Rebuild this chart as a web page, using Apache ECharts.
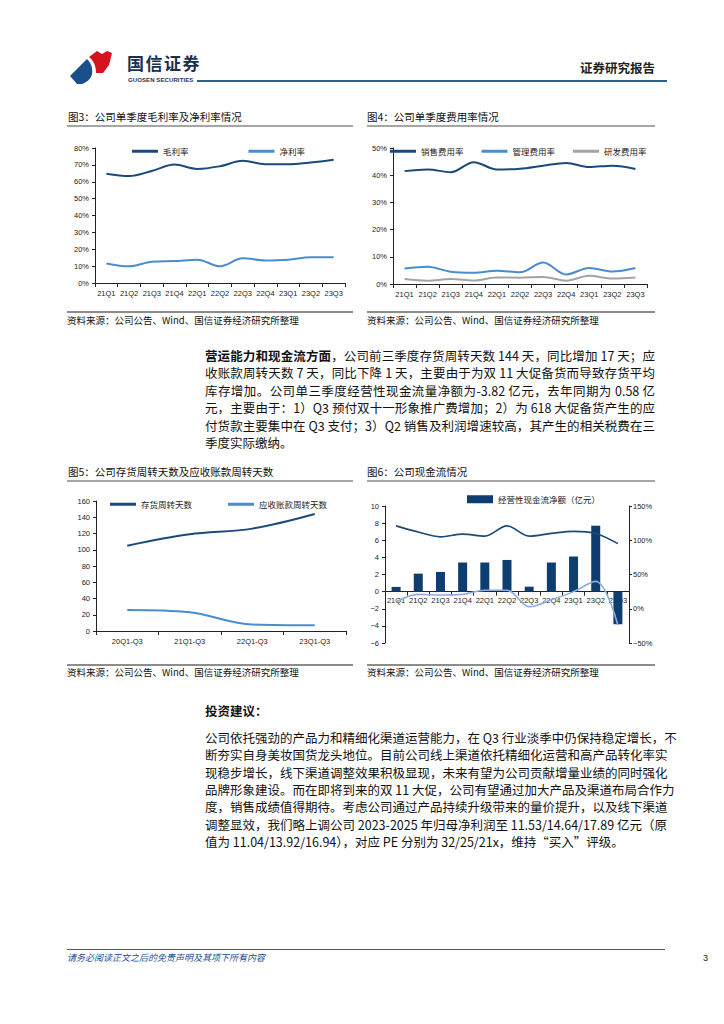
<!DOCTYPE html>
<html><head><meta charset="utf-8">
<script src="https://cdn.jsdelivr.net/npm/echarts@6/dist/echarts.min.js"></script>
<style>
html,body{margin:0;padding:0;background:#fff;}
body{width:724px;height:1024px;position:relative;overflow:hidden;font-family:"Noto Sans CJK SC",sans-serif;color:#111;}
.abs{position:absolute;line-height:1;}
.title{font-size:10.5px;color:#111;white-space:nowrap;}
.rule{position:absolute;height:2px;background:#a6a6a6;}
.src{font-size:9.5px;color:#111;white-space:nowrap;}
.ln{position:absolute;left:205px;width:450px;font-size:12.5px;line-height:16px;text-align:justify;text-align-last:justify;white-space:nowrap;color:#111;}
.ln.last{text-align-last:left;}
.chart{position:absolute;}
</style></head>
<body>
<!-- header -->
<svg class="abs" style="left:68px;top:48px" width="48" height="38" viewBox="0 0 48 38">
  <path d="M2,28 L19,11 C23,15 25,20 24,26 C23,31 19,34 14,36 L9,36 Z" fill="#1b4f8c"/>
  <path d="M21,9 L29,3 L34,6 L39,3 L44,5 L41,17 L35,25 L28,25 C28,18 26,13 21,9 Z" fill="#d5121e"/>
</svg>
<div class="abs" style="left:127px;top:54px;font-size:17px;font-weight:bold;color:#1d2f4f;letter-spacing:1.5px;">国信证券</div>
<div class="abs" style="left:128px;top:77px;font-size:6px;font-family:'Liberation Sans';font-weight:bold;color:#1d2f4f;letter-spacing:0.1px;">GUOSEN SECURITIES</div>
<div class="abs" style="left:197px;top:80px;width:470px;height:2px;background:#2d5f8f;"></div>
<div class="abs" style="left:580px;top:62px;font-size:12.5px;font-weight:bold;color:#222;">证券研究报告</div>

<!-- Fig 3/4 titles -->
<div class="abs title" style="left:68px;top:112px;">图3：公司单季度毛利率及净利率情况</div>
<div class="rule" style="left:67px;top:125px;width:286px;"></div>
<div class="abs title" style="left:367px;top:112px;">图4：公司单季度费用率情况</div>
<div class="rule" style="left:367px;top:125px;width:288px;"></div>

<div id="c3" class="chart" style="left:60px;top:135px;width:295px;height:172px;"></div>
<div id="c4" class="chart" style="left:360px;top:135px;width:300px;height:172px;"></div>

<div class="rule" style="left:67px;top:311px;width:286px;height:1.5px;background:#8c8c8c;"></div>
<div class="rule" style="left:367px;top:311px;width:288px;height:1.5px;background:#8c8c8c;"></div>
<div class="abs src" style="left:67px;top:316px;">资料来源：公司公告、Wind、国信证券经济研究所整理</div>
<div class="abs src" style="left:367px;top:316px;">资料来源：公司公告、Wind、国信证券经济研究所整理</div>

<!-- paragraph 1 -->
<div class="ln" style="top:348px;"><b>营运能力和现金流方面</b>，公司前三季度存货周转天数 144 天，同比增加 17 天；应</div>
<div class="ln" style="top:365.4px;">收账款周转天数 7 天，同比下降 1 天，主要由于为双 11 大促备货而导致存货平均</div>
<div class="ln" style="top:382.8px;">库存增加。公司单三季度经营性现金流量净额为-3.82 亿元，去年同期为 0.58 亿</div>
<div class="ln" style="top:400.2px;">元，主要由于：1）Q3 预付双十一形象推广费增加；2）为 618 大促备货产生的应</div>
<div class="ln" style="top:417.6px;">付货款主要集中在 Q3 支付；3）Q2 销售及利润增速较高，其产生的相关税费在三</div>
<div class="ln last" style="top:435px;">季度实际缴纳。</div>

<!-- Fig 5/6 titles -->
<div class="abs title" style="left:68px;top:467px;">图5：公司存货周转天数及应收账款周转天数</div>
<div class="rule" style="left:67px;top:480px;width:286px;"></div>
<div class="abs title" style="left:367px;top:467px;">图6：公司现金流情况</div>
<div class="rule" style="left:367px;top:480px;width:288px;"></div>

<div id="c5" class="chart" style="left:60px;top:490px;width:295px;height:170px;"></div>
<div id="c6" class="chart" style="left:360px;top:485px;width:300px;height:175px;"></div>

<div class="rule" style="left:67px;top:664px;width:286px;height:1.5px;background:#8c8c8c;"></div>
<div class="rule" style="left:367px;top:664px;width:288px;height:1.5px;background:#8c8c8c;"></div>
<div class="abs src" style="left:67px;top:668px;">资料来源：公司公告、Wind、国信证券经济研究所整理</div>
<div class="abs src" style="left:367px;top:668px;">资料来源：公司公告、Wind、国信证券经济研究所整理</div>

<!-- paragraph 2 -->
<div class="ln last" style="top:703px;font-weight:bold;">投资建议：</div>
<div class="ln" style="top:730px;">公司依托强劲的产品力和精细化渠道运营能力，在 Q3 行业淡季中仍保持稳定增长，不</div>
<div class="ln" style="top:747.3px;">断夯实自身美妆国货龙头地位。目前公司线上渠道依托精细化运营和高产品转化率实</div>
<div class="ln" style="top:764.6px;">现稳步增长，线下渠道调整效果积极显现，未来有望为公司贡献增量业绩的同时强化</div>
<div class="ln" style="top:781.9px;">品牌形象建设。而在即将到来的双 11 大促，公司有望通过加大产品及渠道布局合作力</div>
<div class="ln" style="top:799.2px;">度，销售成绩值得期待。考虑公司通过产品持续升级带来的量价提升，以及线下渠道</div>
<div class="ln" style="top:816.5px;">调整显效，我们略上调公司 2023-2025 年归母净利润至 11.53/14.64/17.89 亿元（原</div>
<div class="ln last" style="top:833.8px;">值为 11.04/13.92/16.94），对应 PE 分别为 32/25/21x，维持“买入”评级。</div>

<!-- footer -->
<div class="abs" style="left:67px;top:949px;width:598px;height:1px;background:#2d5f8f;"></div>
<div class="abs" style="left:67px;top:953px;font-size:9px;font-style:italic;color:#1f4f8f;">请务必阅读正文之后的免责声明及其项下所有内容</div>
<div class="abs" style="left:703px;top:954px;font-size:9px;font-family:'Liberation Sans';color:#222;">3</div>

<script>
// ---------- data ----------
const quarters = ['21Q1','21Q2','21Q3','21Q4','22Q1','22Q2','22Q3','22Q4','23Q1','23Q2','23Q3'];
const grossMargin = [64.8,63.4,66.4,70.2,67.6,69.2,72.4,70.4,70.4,71.4,73.0];
const netMargin   = [11.6,9.9,12.6,13.0,13.8,9.9,14.6,13.4,13.8,15.3,15.2];
const sellingRate = [41.5,42.1,41.1,44.8,42.1,42.4,43.5,44.5,43.0,43.5,42.3];
const adminRate   = [5.7,6.3,4.5,4.1,4.9,4.3,7.9,3.5,5.9,4.6,5.9];
const rdRate      = [1.8,1.2,1.8,1.3,2.4,2.3,2.6,1.2,3.0,2.0,2.4];
const periods = ['20Q1-Q3','21Q1-Q3','22Q1-Q3','23Q1-Q3'];
const inventoryDays  = [105,119,126,144];
const receivableDays = [26,23,8,7];
const cashFlow   = [0.55,2.1,2.3,3.4,3.4,3.7,0.58,3.4,4.1,7.7,-3.82];
const cashRatioA = [121,112,105,109,106,121,106,110,113,110,95];
const cashRatioB = [10,21,20,21,27,27,3,13,25,40,-24];
const cashAxis = {min:-6, max:10, interval:2};

// ---------- style ----------
const DARK = '#1a4a7c', LIGHT = '#4a8ccc', GRAY = '#a3a3a3', BAR = '#0e3d6f', PALE = '#8eacde';
const FONT = 'Liberation Sans';
const lab = {fontSize:7.5, color:'#222', fontFamily:FONT};
const axLine = {show:true, lineStyle:{color:'#222', width:1}};
function xCat(data, extra){
  return Object.assign({type:'category', data, boundaryGap:true, axisLine:axLine,
    axisTick:{show:true, alignWithLabel:false, interval:0, length:4, lineStyle:{color:'#222'}},
    axisLabel:Object.assign({margin:6, interval:0}, lab)}, extra||{});
}
function yVal(extra){
  return Object.assign({type:'value', axisLine:axLine, splitLine:{show:false},
    axisTick:{show:true, length:3, lineStyle:{color:'#222'}},
    axisLabel:Object.assign({margin:6}, lab)}, extra||{});
}
function line(name, data, color, extra){
  return Object.assign({name, type:'line', data, smooth:0.35, symbol:'none',
    lineStyle:{color, width:2}, itemStyle:{color}}, extra||{});
}
const legendBase = {itemWidth:26, itemHeight:3, icon:'rect', itemGap:60,
  textStyle:{fontSize:8.5, color:'#222', fontFamily:'Noto Sans CJK SC'}};

// Fig 3
echarts.init(document.getElementById('c3'), null, {renderer:'svg'}).setOption({
  animation:false,
  grid:{left:35, top:13, width:250, height:135},
  legend:Object.assign({}, legendBase, {top:7, left:67, data:['毛利率','净利率'], itemGap:60}),
  xAxis:xCat(quarters),
  yAxis:yVal({min:0, max:80, interval:10, axisLabel:Object.assign({margin:6, formatter:'{value}%'}, lab)}),
  series:[line('毛利率', grossMargin, DARK), line('净利率', netMargin, LIGHT)]
});

// Fig 4
echarts.init(document.getElementById('c4'), null, {renderer:'svg'}).setOption({
  animation:false,
  grid:{left:33, top:13, width:254, height:136},
  legend:Object.assign({}, legendBase, {top:7, left:25, width:290, data:['销售费用率','管理费用率','研发费用率'], itemGap:18}),
  xAxis:xCat(quarters),
  yAxis:yVal({min:0, max:50, interval:10, axisLabel:Object.assign({margin:6, formatter:'{value}%'}, lab)}),
  series:[line('销售费用率', sellingRate, DARK), line('管理费用率', adminRate, LIGHT), line('研发费用率', rdRate, GRAY)]
});

// Fig 5
echarts.init(document.getElementById('c5'), null, {renderer:'svg'}).setOption({
  animation:false,
  grid:{left:36, top:11, width:250, height:130},
  legend:Object.assign({}, legendBase, {top:5, left:45, data:['存货周转天数','应收账款周转天数'], itemGap:36}),
  xAxis:xCat(periods),
  yAxis:yVal({min:0, max:160, interval:20}),
  series:[line('存货周转天数', inventoryDays, DARK), line('应收账款周转天数', receivableDays, LIGHT)]
});

// Fig 6
const g6 = {left:25, top:21, width:244, height:137};
const zeroOffset = -(0 - cashAxis.min) / (cashAxis.max - cashAxis.min) * g6.height;
echarts.init(document.getElementById('c6'), null, {renderer:'svg'}).setOption({
  animation:false,
  grid:g6,
  legend:{top:5, left:102, data:['经营性现金流净额（亿元）'], itemWidth:26, itemHeight:8, icon:'rect',
    textStyle:{fontSize:8.5, color:'#222', fontFamily:'Noto Sans CJK SC'}},
  xAxis:xCat(quarters, {offset:zeroOffset, axisLine:{show:true, onZero:false, lineStyle:{color:'#222'}},
    axisLabel:Object.assign({margin:5, interval:0}, lab)}),
  yAxis:[
    yVal(Object.assign({}, cashAxis, {axisLine:{show:true, onZero:false, lineStyle:{color:'#222'}}, axisLabel:Object.assign({margin:6, formatter:v=>String(v).replace('-','−')}, lab)})),
    yVal({min:-50, max:150, interval:50, position:'right', axisLine:{show:true, onZero:false, lineStyle:{color:'#222'}}, axisLabel:Object.assign({margin:4, formatter:v=>String(v).replace('-','−')+'%'}, lab)})
  ],
  series:[
    {name:'经营性现金流净额（亿元）', type:'bar', data:cashFlow, barWidth:9, itemStyle:{color:BAR}},
    line('经营性现金流/营收', cashRatioA, DARK, {yAxisIndex:1, lineStyle:{color:DARK, width:1.6}}),
    line('经营性现金流/净利润', cashRatioB, PALE, {yAxisIndex:1, lineStyle:{color:PALE, width:1.6}})
  ]
});
</script>
</body></html>
